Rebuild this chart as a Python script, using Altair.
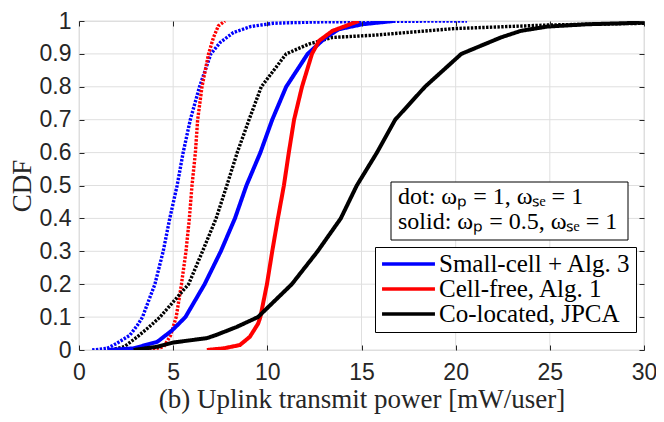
import altair as alt
import pandas as pd

# ---------------- data ----------------
x_ticks = [0, 5, 10, 15, 20, 25, 30]
y_ticks = [0, 0.1, 0.2, 0.3, 0.4, 0.5, 0.6, 0.7, 0.8, 0.9, 1]

names = ["Small-cell + Alg. 3", "Cell-free, Alg. 1", "Co-located, JPCA"]
colors = ["#0000ff", "#ff0000", "#000000"]

# dotted: omega_p = 1, omega_se = 1
blue_dot_x = [0.7, 1.5, 2.0, 2.7, 3.1, 3.37, 4.03, 4.47, 4.82, 5.21, 5.53, 5.91, 6.40, 7.0, 7.5, 8.2, 9.1, 10.3, 12.5, 16.0, 20.6]
blue_dot_y = [0, 0.005, 0.02, 0.045, 0.075, 0.1, 0.2, 0.3, 0.4, 0.5, 0.6, 0.7, 0.8, 0.9, 0.935, 0.965, 0.983, 0.993, 0.997, 0.999, 1.0]

red_dot_x = [3.72, 4.5, 4.86, 5.16, 5.44, 5.68, 5.86, 6.0, 6.18, 6.3, 6.53, 6.88, 7.14, 7.4, 7.75]
red_dot_y = [0, 0.01, 0.044, 0.1, 0.2, 0.3, 0.4, 0.5, 0.6, 0.7, 0.8, 0.9, 0.95, 0.985, 1.0]

black_dot_x = [1.7, 2.4, 3.1, 3.8, 4.3, 5.82, 6.56, 7.28, 7.85, 8.4, 9.03, 9.68, 11.0, 12.2, 13.46, 15.7, 19.95, 25.0, 30.0]
black_dot_y = [0, 0.01, 0.04, 0.074, 0.1, 0.2, 0.3, 0.4, 0.5, 0.6, 0.7, 0.8, 0.9, 0.93, 0.95, 0.957, 0.977, 0.988, 0.993]

# solid: omega_p = 0.5, omega_se = 1
blue_sol_x = [1.5, 2.9, 4.16, 4.95, 5.65, 6.67, 7.53, 8.28, 8.89, 9.63, 10.26, 11.0, 12.14, 13.1, 13.8, 15.04, 16.7]
blue_sol_y = [0, 0.005, 0.025, 0.06, 0.1, 0.2, 0.3, 0.4, 0.5, 0.6, 0.7, 0.8, 0.9, 0.95, 0.975, 0.99, 1.0]

red_sol_x = [6.79, 7.67, 8.54, 9.07, 9.51, 9.63, 9.98, 10.26, 10.56, 10.88, 11.14, 11.42, 11.84, 12.37, 12.75, 13.46, 14.16, 14.86]
red_sol_y = [0, 0.005, 0.015, 0.04, 0.08, 0.1, 0.2, 0.3, 0.4, 0.5, 0.6, 0.7, 0.8, 0.9, 0.94, 0.97, 0.985, 1.0]

black_sol_x = [2.9, 4.16, 5.03, 6.79, 7.3, 8.37, 9.5, 11.3, 12.67, 13.9, 14.75, 15.82, 16.79, 18.37, 20.3, 22.4, 23.46, 24.86, 26.96, 30.0]
black_sol_y = [0, 0.01, 0.023, 0.036, 0.046, 0.07, 0.1, 0.2, 0.3, 0.4, 0.5, 0.6, 0.7, 0.8, 0.9, 0.95, 0.97, 0.983, 0.99, 0.995]

x_title = "(b) Uplink transmit power [mW/user]"
y_title = "CDF"
note_text = "dot: \u03c9\u209a = 1, \u03c9\u209b\u2091 = 1\nsolid: \u03c9\u209a = 0.5, \u03c9\u209b\u2091 = 1"

# ---------------- build table ----------------
series_list = [
    (names[0], "dot", blue_dot_x, blue_dot_y),
    (names[1], "dot", red_dot_x, red_dot_y),
    (names[2], "dot", black_dot_x, black_dot_y),
    (names[0], "solid", blue_sol_x, blue_sol_y),
    (names[1], "solid", red_sol_x, red_sol_y),
    (names[2], "solid", black_sol_x, black_sol_y),
]
rows = []
for name, style, xs, ys in series_list:
    for i, (xv, yv) in enumerate(zip(xs, ys)):
        rows.append({"series": name, "style": style, "key": name + "|" + style,
                     "x": xv, "y": yv, "i": i})
df = pd.DataFrame(rows)

xscale = alt.Scale(domain=[0, 30], nice=False, zero=False)
yscale = alt.Scale(domain=[0, 1], nice=False, zero=False)

axis_col = "#262626"
grid_col = "#dfdfdf"
sans = "Liberation Sans"
serif = "Liberation Serif"

common_axis = dict(domain=False, tickSize=5, tickColor=axis_col, tickWidth=1,
                   grid=False, zindex=1, offset=-5)

xgrid = alt.Chart(pd.DataFrame({"v": x_ticks})).mark_rule(color=grid_col, strokeWidth=1).encode(
    x=alt.X("v:Q", scale=xscale, axis=alt.Axis(
        orient="bottom", values=x_ticks, labelFont=sans, labelFontSize=23,
        labelColor=axis_col, labelPadding=11, labelFlush=False,
        title=x_title, titleFont=serif, titleFontSize=27, titleFontWeight="normal",
        titleColor=axis_col, titlePadding=2, **common_axis)))

xtop = alt.Chart(pd.DataFrame({"v": x_ticks})).mark_rule(strokeOpacity=0).encode(
    x=alt.X("v:Q", scale=xscale, axis=alt.Axis(
        orient="top", values=x_ticks, labels=False, title=None, **common_axis)))

ygrid = alt.Chart(pd.DataFrame({"v": y_ticks})).mark_rule(color=grid_col, strokeWidth=1).encode(
    y=alt.Y("v:Q", scale=yscale, axis=alt.Axis(
        orient="left", values=y_ticks, format=".1~f", labelFont=sans, labelFontSize=23,
        labelColor=axis_col, labelPadding=8, labelFlush=False,
        title=y_title, titleFont=serif, titleFontSize=27, titleFontWeight="normal",
        titleColor=axis_col, titlePadding=3, **common_axis)))

yright = alt.Chart(pd.DataFrame({"v": y_ticks})).mark_rule(strokeOpacity=0).encode(
    y=alt.Y("v:Q", scale=yscale, axis=alt.Axis(
        orient="right", values=y_ticks, labels=False, title=None, **common_axis)))

lines = alt.Chart(df).mark_line(clip=True, strokeCap="butt").encode(
    x=alt.X("x:Q", scale=xscale, axis=None),
    y=alt.Y("y:Q", scale=yscale, axis=None),
    color=alt.Color("series:N", scale=alt.Scale(domain=names, range=colors),
                    legend=alt.Legend(
                        orient="none", legendX=296, legendY=226, title=None,
                        symbolType="stroke", symbolSize=2800, symbolStrokeWidth=3.5,
                        clipHeight=24, labelFont=serif, labelFontSize=25,
                        labelColor="black", strokeColor="black", fillColor="white",
                        padding=5, labelOffset=2, rowPadding=0, labelLimit=400)),
    strokeDash=alt.StrokeDash("style:N", scale=alt.Scale(domain=["dot", "solid"], range=[[2.4, 1.4], [1, 0]]), legend=None),
    strokeWidth=alt.StrokeWidth("style:N", scale=alt.Scale(domain=["dot", "solid"], range=[3.4, 4]), legend=None),
    detail="key:N",
    order="i:Q",
)

one = pd.DataFrame({"a": [0]})
box = alt.Chart(one).mark_rect(fill="white", stroke="black", strokeWidth=1).encode(
    x=alt.value(312), x2=alt.value(549), y=alt.value(161), y2=alt.value(219))
note = alt.Chart(one).mark_text(align="left", baseline="middle", font=serif, fontSize=24,
                                 lineBreak="\n", lineHeight=25, color="black").encode(
    x=alt.value(319), y=alt.value(176), text=alt.value(note_text))

chart = alt.layer(xgrid, xtop, ygrid, yright, lines, box, note).resolve_axis(
    x="independent", y="independent"
).properties(
    width=565, height=329,
    autosize=alt.AutoSizeParams(type="none"),
    padding={"left": 71, "top": 13, "right": 12, "bottom": 64},
).configure_view(stroke=axis_col, strokeWidth=1).configure(background="white")

chart.save("out.html", embed_options={"renderer": "svg", "actions": False})
